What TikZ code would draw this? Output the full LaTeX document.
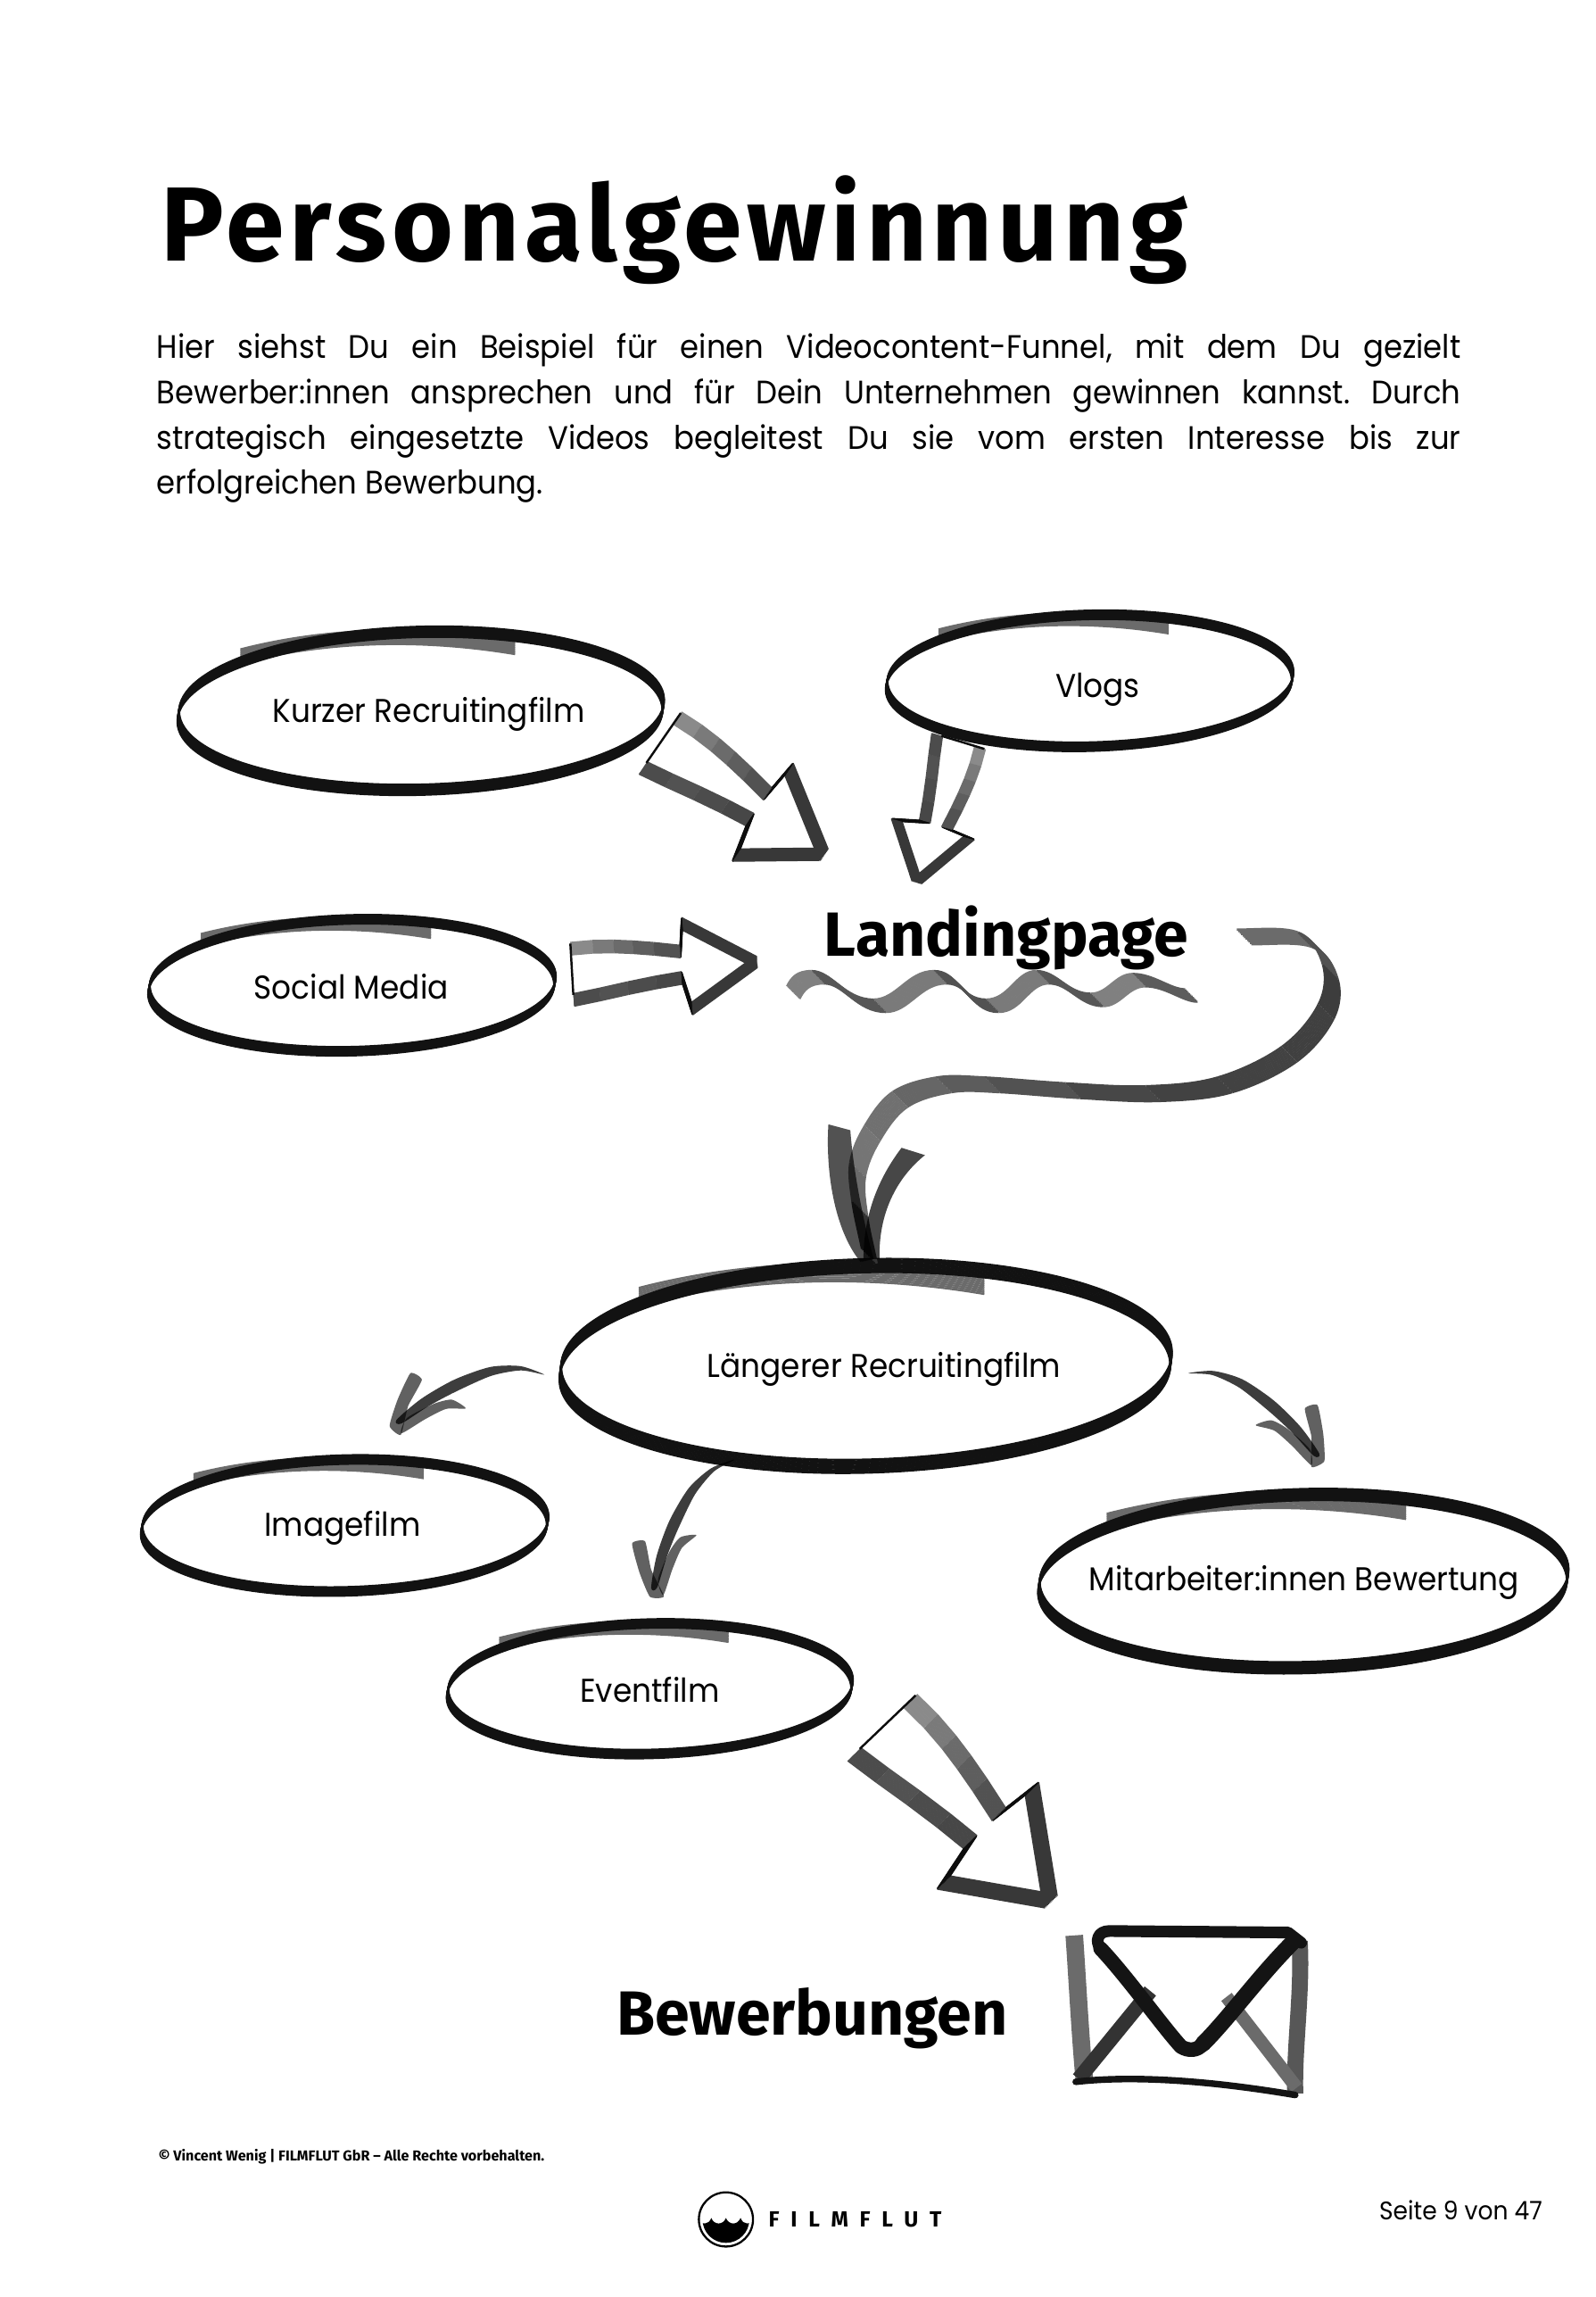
\documentclass[tikz,border=0pt]{standalone}
\usepackage{fontspec}
\usepackage{amsmath}
\usetikzlibrary{shapes,arrows,positioning,calc}
\setmainfont[FakeStretch=0.93]{Poppins}
\newfontfamily\headfont{Fira Sans}

\tikzset{
  inklabel/.style={inner sep=0pt,font=\fontsize{22.5}{28}\selectfont},
  bighead/.style={inner sep=0pt,anchor=base west,font=\headfont\bfseries\fontsize{42.6}{50}\selectfont},
  flapline/.style={line join=round,line cap=round,black!92},
}

% one hollow marker arrow from #1 to #2, #3 = width factor
\newcommand{\hollowarrow}[3]{%
  \begin{scope}[shift={(#1)},x={($(#2)-(#1)$)},y={($(#1)!#3!90:(#2)-(#1)$)}]
    \foreach \k in {-6,...,6} {
      \begin{scope}[shift={(0,\k*0.0052)},line width=1.3pt]
        \foreach \gr/\pa/\pb in {46/{.013,.138}/{.13,.14},52/{.13,.14}/{.24,.134},58/{.24,.134}/{.34,.123},63/{.34,.123}/{.45,.107},68/{.45,.107}/{.588,.083},
                                 72/{.587,-.056}/{.45,-.07},70/{.45,-.07}/{.3,-.09},68/{.3,-.09}/{.15,-.113},70/{.15,-.113}/{.01,-.132}} {
          \draw[black!\gr] (\pa) -- (\pb);
        }
        \draw[black!78] (.606,.228) -- (.98,0) -- (.628,-.221);
        \draw[black!95,line width=.9pt] (.588,.083) -- (.606,.228);
        \draw[black!95,line width=.9pt] (.628,-.221) -- (.587,-.056);
      \end{scope}
    }
    \draw[black!95,line width=1.5pt] (.013,.165) -- (.01,-.105);
  \end{scope}}

% one tapered arrow with two barbs from #1 to #2, #3 = side
\newcommand{\barbarrow}[3]{%
  \begin{scope}[shift={(#1)},x={($(#2)-(#1)$)},y={($(#1)!#3!90:(#2)-(#1)$)},black,fill opacity=.76]
    \fill plot[smooth cycle,tension=.45] coordinates {(0,0) (.124,-.101) (.307,-.16) (.548,-.16) (.783,-.116) (.976,-.042) (.955,-.01) (.759,-.056) (.569,-.085) (.321,-.105) (.131,-.075)};
    \fill[fill opacity=.62] plot[smooth cycle,tension=.3] coordinates {(.795,-.291) (.741,-.227) (.877,-.101) (.982,.056) (1.03,-.02) (.929,-.158)};
    \fill[fill opacity=.62] plot[smooth cycle,tension=.4] coordinates {(.54,.035) (.604,-.046) (.72,-.059) (.91,-.031) (.975,.048) (.804,.014) (.658,-.003)};
  \end{scope}}

\begin{document}
\frenchspacing
\begin{tikzpicture}[x=1pt,y=-1pt]
\useasboundingbox[fill=white] (0,0) rectangle (1090,1569);

\node[inner sep=0pt,anchor=base west,font=\headfont\bfseries\fontsize{72}{80}\selectfont\addfontfeatures{LetterSpace=4.9}] (title) at (110,178) {Personalgewinnung};
\node[inner sep=0pt,anchor=north west,text width=891pt,align=justify,font=\fontsize{22.2}{31}\selectfont] (intro) at (107,227.5)
  {Hier siehst Du ein Beispiel für einen Videocontent-Funnel, mit dem Du gezielt\linebreak
   Bewerber:innen ansprechen und für Dein Unternehmen gewinnen kannst. Durch\linebreak
   strategisch eingesetzte Videos begleitest Du sie vom ersten Interesse bis zur\linebreak
   erfolgreichen Bewerbung.};

% ellipses
\foreach \nm/\cx/\cy/\rx/\ry/\lx/\ly/\lbl in {
  kurz/287.5/485.5/166.5/57.5/293/488/Kurzer Recruitingfilm,
  vlogs/744.5/465/139.5/48/750/471/Vlogs,
  social/240.5/673/139.5/48/240/674/Social Media,
  laenger/591.5/933/209.5/73/604/935/Längerer Recruitingfilm,
  imagefilm/235.5/1042/139.5/48/234/1044/Imagefilm,
  eventfilm/444/1153.5/139/47.5/444/1154/Eventfilm,
  bewertung/890.5/1080/181.5/63/891/1081/Mitarbeiter:innen Bewertung} {
  \pgfmathsetmacro\nb{.125*\ry}
  \pgfmathsetmacro\rim{\ry-.5*\nb}
  \foreach \k in {0,...,9} {
    \draw[black!58,line width=1.4pt] ({\cx-.74*\rx},{\cy-.73*\ry+\k/9*\nb*1.3}) .. controls ({\cx-.35*\rx},{\cy-1.02*\ry+\k/9*\nb*1.3}) and ({\cx+.05*\rx},{\cy-1*\ry+\k/9*\nb*1.3}) .. ({\cx+.387*\rx},{\cy-.835*\ry+\k/9*\nb*1.3});
  }
  \foreach \k in {0,...,9} {
    \draw[black!93,line width=1.3pt] ({\cx-1.2*(\k/9-.5)},{\cy+(\k/9-.5)*\nb}) ellipse [x radius={\rx-.75},y radius={\rim},rotate=1.5];
  }
  \node[inklabel] (\nm) at (\lx,\ly) {\lbl};
}

\node[bighead] (landing) at (563,653) {Landingpage};
\node[bighead] (bewerbungen) at (421,1390) {Bewerbungen};

% free ends of the arrows
\coordinate (kurzout) at (449.5,507);
\coordinate (landkurz) at (565,585);
\coordinate (vlogsout) at (655,505);
\coordinate (landvlogs) at (626,604);
\coordinate (socialout) at (389.5,666);
\coordinate (landsocial) at (519,657);
\coordinate (eventout) at (601,1179);
\coordinate (mailin) at (720,1301);
\coordinate (landout) at (850,640);
\coordinate (laengerin) at (594,858);
\coordinate (laengerwest) at (372,939);
\coordinate (imagein) at (270,975);
\coordinate (laengereast) at (812,938);
\coordinate (bewertungin) at (901,998);
\coordinate (laengersouth) at (502,997);
\coordinate (eventin) at (447.5,1089);

\hollowarrow{kurzout}{landkurz}{1.1}
\hollowarrow{vlogsout}{landvlogs}{1.1}
\hollowarrow{socialout}{landsocial}{1}
\hollowarrow{eventout}{mailin}{1.15}

\barbarrow{laengerwest}{imagein}{1}
\barbarrow{laengereast}{bewertungin}{-1}
\barbarrow{laengersouth}{eventin}{1}

% big curve
\foreach \gr/\seg in {
  58/{(landout) .. controls (864,640) and (882,638) .. (892,642)},
  68/{(892,642) .. controls (902,646) and (906.7,656) .. (909,664)},
  76/{(909,664) .. controls (911.3,672) and (910.7,681.7) .. (906,691)},
  75/{(906,691) .. controls (901.3,700.3) and (892.5,711.7) .. (881,720)},
  74/{(881,720) .. controls (869.5,728.3) and (852.5,736.5) .. (837,741)},
  74/{(837,741) .. controls (821.5,745.5) and (805.3,746.3) .. (788,747)},
  72/{(788,747) .. controls (770.7,747.7) and (751.3,746) .. (733,745)},
  68/{(733,745) .. controls (714.7,744) and (692.7,741.7) .. (678,741)},
  64/{(678,741) .. controls (663.3,740.3) and (655.5,739.3) .. (645,741)},
  60/{(645,741) .. controls (634.5,742.7) and (623.2,745.5) .. (615,751)},
  56/{(615,751) .. controls (606.8,756.5) and (600.8,766) .. (596,774)},
  54/{(596,774) .. controls (591.2,782) and (587.4,790.3) .. (586,799)},
  58/{(586,799) .. controls (584.6,807.7) and (586.2,816) .. (587.5,826)},
  80/{(587.5,826) .. controls (588.8,835.8) and (592,848) .. (laengerin)}} {
  \foreach \k in {-5,...,5} {
    \draw[black!\gr,line width=1.6pt,transform canvas={shift={(\k,\k)}}] \seg;
  }
}
\fill[black,fill opacity=.68] (566,768) .. controls (564,800) and (570,840) .. (588,862) -- (597,860) .. controls (590,835) and (583,800) .. (581,772) -- cycle;
\fill[black,fill opacity=.72] (616,784) .. controls (600,805) and (590,830) .. (590,860) -- (601,860) .. controls (600,830) and (612,805) .. (632,789) -- cycle;

% wave
\foreach \k in {-5,...,5} {
  \begin{scope}[shift={(\k*.85,\k*.85)},line width=1.5pt]
    \draw[black!50] (542,678) .. controls +(3,-6) and +(-10,0) .. (558.7,667.5);
    \draw[black!66] (558.7,667.5) .. controls +(14,0) and +(-20,0) .. (601,687);
    \draw[black!52] (601,687) .. controls +(16,0) and +(-18,0) .. (642.4,667.5);
    \draw[black!68] (642.4,667.5) .. controls +(16,0) and +(-18,0) .. (678,687);
    \draw[black!52] (678,687) .. controls +(16,0) and +(-14,0) .. (712.4,667.5);
    \draw[black!66] (712.4,667.5) .. controls +(14,0) and +(-16,0) .. (749.5,683);
    \draw[black!50] (749.5,683) .. controls +(12,0) and +(-12,0) .. (778.3,669.5);
    \draw[black!64] (778.3,669.5) .. controls +(14,0) and +(-10,0) .. (814,680);
  \end{scope}
}

% envelope
\draw[black!58,line width=12pt] (734,1322) .. controls (736,1350) and (738,1390) .. (741,1422);
\draw[black!66,line width=11pt] (888,1326) .. controls (890,1360) and (884,1400) .. (885,1430);
\draw[black!80,line width=10pt] (737,1420) -- (786,1360);
\draw[black!58,line width=9pt] (838,1364) -- (886,1426);
\draw[flapline,line width=8pt] (889,1327) -- (880,1320) -- (758,1319) .. controls (750,1319) and (748,1326) .. (752,1331);
\draw[flapline,line width=10pt] (752,1331) .. controls (770,1350) and (795,1385) .. (807,1398) .. controls (812,1401) and (818,1401) .. (822,1396);
\draw[flapline,line width=11pt] (822,1396) .. controls (840,1378) and (860,1350) .. (884,1326);
\draw[flapline,line width=4.5pt] (735,1422) .. controls (770,1418) and (820,1420) .. (885,1431);

% footer
\node[inner sep=0pt,anchor=base west,font=\headfont\bfseries\fontsize{9.85}{12}\selectfont] (copyright) at (108,1476) {© Vincent Wenig | FILMFLUT GbR – Alle Rechte vorbehalten.};
\node[inner sep=0pt,anchor=base east,font=\fontsize{17.4}{20}\selectfont] (seite) at (1054,1516) {Seite 9 von 47};
\draw[line width=1.4pt] (496,1516) circle (18.5);
\begin{scope}
  \clip (496,1516) circle (16);
  \fill (475,1515) .. controls (480,1520) and (484,1520) .. (486,1515) .. controls (488,1520) and (494,1520) .. (496,1515) .. controls (498,1520) and (504,1520) .. (506,1515) .. controls (508,1520) and (512,1520) .. (517,1515) -- (517,1540) -- (475,1540) -- cycle;
\end{scope}
\node[inner sep=0pt,anchor=base west,font=\headfont\bfseries\fontsize{15}{18}\selectfont\addfontfeatures{LetterSpace=52}] (filmflut) at (525,1521) {FILMFLUT};

\end{tikzpicture}
\end{document}
